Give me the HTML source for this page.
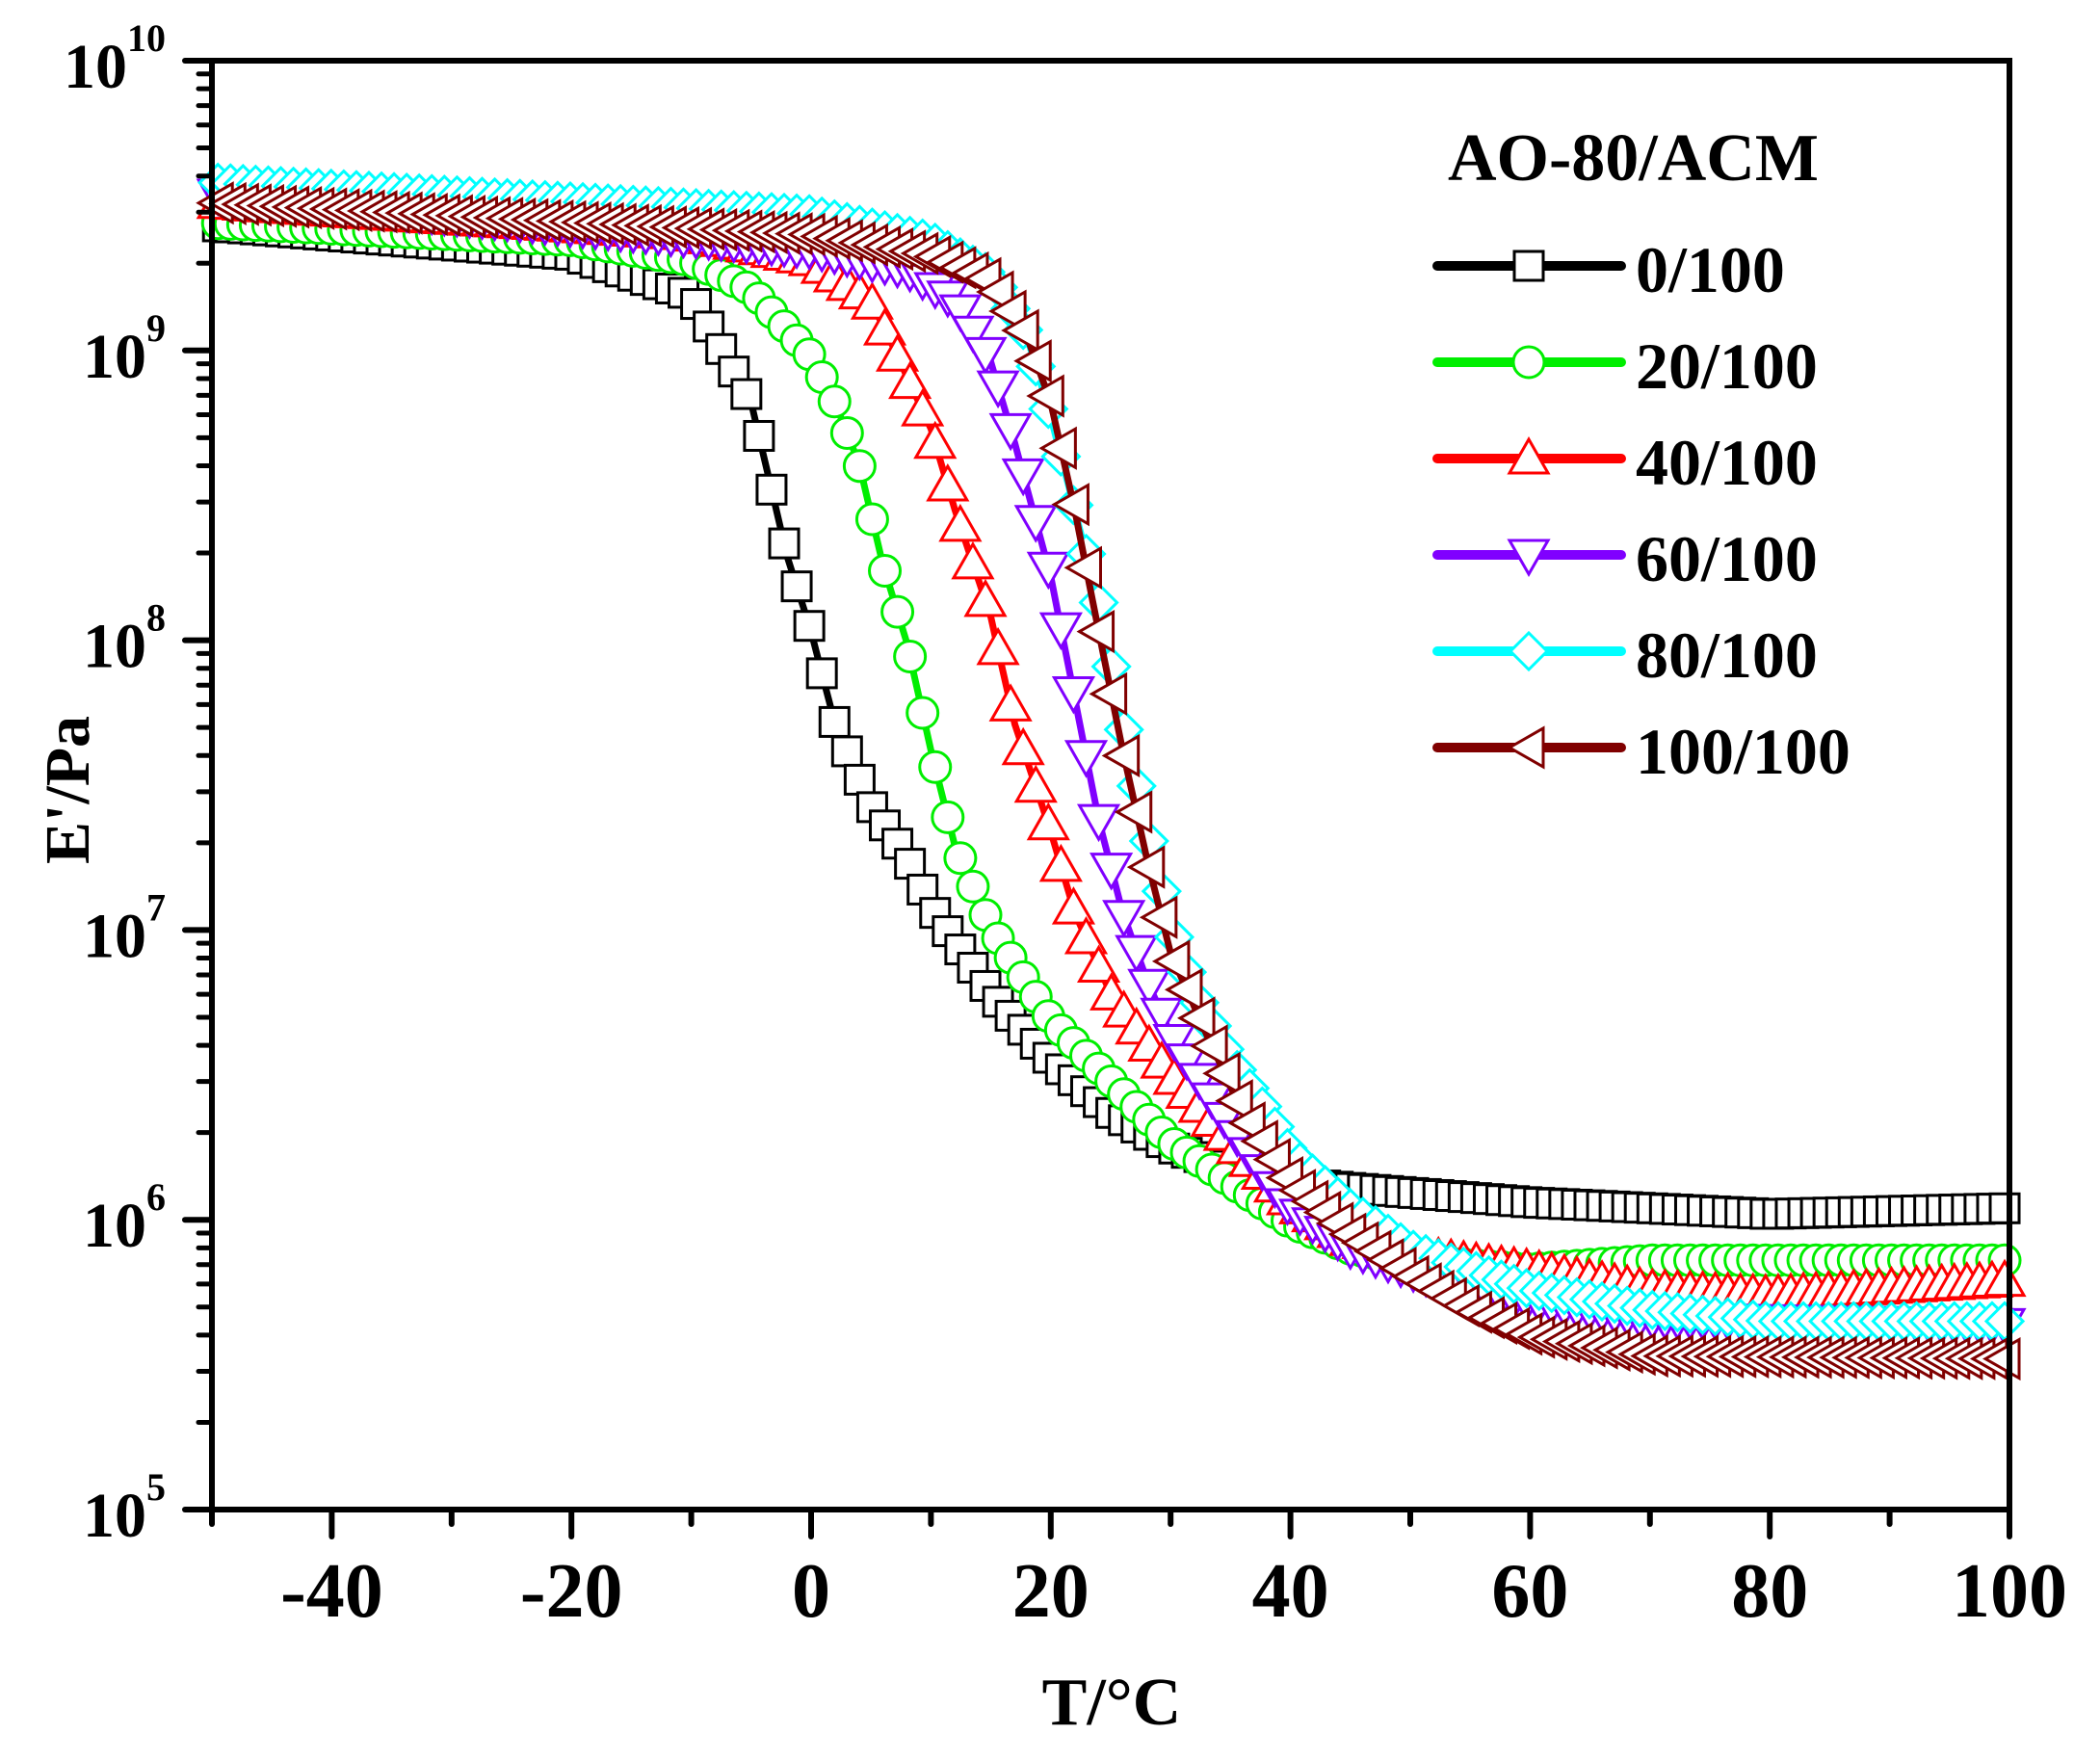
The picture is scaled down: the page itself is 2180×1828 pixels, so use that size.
<!DOCTYPE html>
<html><head><meta charset="utf-8"><style>html,body{margin:0;padding:0;background:#fff}svg{display:block}svg text{font-family:"Liberation Serif","Times New Roman",serif;font-weight:bold}</style></head>
<body>
<svg id="s" width="2180" height="1828" xmlns="http://www.w3.org/2000/svg" style="font-family:'Liberation Serif',serif;font-weight:bold">
<g id="data"></g>
<rect x="220" y="63" width="1866" height="1504" fill="none" stroke="#000" stroke-width="6"/>
<g id="ax"></g>
<text x="1503" y="187" font-size="70">AO-80/ACM</text>
<g id="leg"></g>
<text x="1154" y="1790" font-size="70" text-anchor="middle">T/°C</text>
<text transform="translate(92,820) rotate(-90)" font-size="66" text-anchor="middle">E'/Pa</text>
</svg>
<script>
const NS="http://www.w3.org/2000/svg";
const X0=220,X1=2086,Y0=63,Y1=1567;
const px=t=>X0+(t+50)*(X1-X0)/150;
const py=l=>Y0+(10-l)*(Y1-Y0)/5;
function el(p,tag,a,txt){const e=document.createElementNS(NS,tag);for(const k in a)e.setAttribute(k,a[k]);if(txt!=null)e.textContent=txt;p.appendChild(e);return e;}
const ax=document.getElementById('ax');
for(let d=5;d<=10;d++){
  const y=py(d);
  el(ax,'line',{x1:192,y1:y,x2:220,y2:y,stroke:'#000','stroke-width':6,'stroke-linecap':'round'});
  const t=el(ax,'text',{x:172,y:y+28,'font-size':66,'text-anchor':'end'},'10');
  el(t,'tspan',{dy:-38,'font-size':40},String(d));
  if(d<10)for(let m=2;m<=9;m++){const yy=py(d+Math.log10(m));el(ax,'line',{x1:206,y1:yy,x2:220,y2:yy,stroke:'#000','stroke-width':5,'stroke-linecap':'round'});}
}
for(let t=-50;t<=100;t+=10){
  const x=px(t),maj=(t%20===0);
  el(ax,'line',{x1:x,y1:1567,x2:x,y2:maj?1595:1582,stroke:'#000','stroke-width':6,'stroke-linecap':'round'});
  if(maj&&t>-50)el(ax,'text',{x:x,y:1678,'font-size':80,'text-anchor':'middle'},String(t));
}
const S=[
 {c:'#000',m:'sq',p:[[-50,9.43],[-20,9.33],[-10,9.19],[-5,8.82],[-2,8.29],[0,8.03],[2,7.71],[5,7.43],[8,7.25],[10,7.08],[15,6.78],[20,6.55],[25,6.37],[30,6.25],[35,6.18],[40,6.13],[45,6.11],[60,6.06],[80,6.02],[100,6.04]]},
 {c:'#00ee00',m:'ci',p:[[-50,9.44],[-20,9.38],[-10,9.31],[-5,9.21],[0,8.98],[2,8.82],[4,8.61],[6,8.26],[8,7.99],[10,7.62],[12,7.29],[15,7.01],[20,6.69],[25,6.48],[30,6.27],[35,6.13],[40,5.99],[45,5.90],[50,5.86],[60,5.83],[70,5.86],[100,5.86]]},
 {c:'#ff0000',m:'tu',p:[[-50,9.51],[-10,9.40],[0,9.31],[5,9.17],[7,9.0],[10,8.73],[12,8.45],[15,8.08],[17,7.71],[20,7.34],[22,7.06],[25,6.78],[30,6.50],[35,6.27],[40,6.06],[45,5.93],[50,5.88],[60,5.83],[70,5.76],[80,5.74],[100,5.79]]},
 {c:'#8000ff',m:'td',p:[[-50,9.54],[0,9.35],[8,9.28],[12,9.17],[15,8.96],[17,8.68],[20,8.22],[22,7.80],[24,7.38],[26,7.06],[28,6.83],[30,6.64],[35,6.32],[40,6.04],[45,5.90],[55,5.75],[70,5.66],[100,5.64]]},
 {c:'#00ffff',m:'di',p:[[-50,9.58],[0,9.47],[10,9.38],[15,9.26],[18,9.05],[20,8.77],[22,8.45],[24,8.13],[26,7.71],[28,7.34],[30,7.01],[32,6.78],[35,6.55],[38,6.37],[40,6.23],[45,6.04],[50,5.90],[60,5.76],[70,5.69],[80,5.65],[100,5.65]]},
 {c:'#800000',m:'tl',p:[[-50,9.51],[0,9.40],[10,9.33],[15,9.24],[18,9.05],[20,8.82],[22,8.45],[24,8.03],[26,7.62],[28,7.25],[30,6.92],[33,6.64],[36,6.37],[40,6.13],[45,5.95],[50,5.81],[55,5.69],[60,5.60],[70,5.53],[100,5.52]]}
];
function f(p,t){for(let i=0;i<p.length-1;i++){if(t<=p[i+1][0]){const a=p[i],b=p[i+1];return a[1]+(b[1]-a[1])*(t-a[0])/(b[0]-a[0]);}}return p[p.length-1][1];}
function mk(g,m,x,y,c){
 const a={fill:'#fff',stroke:c,'stroke-width':3};
 if(m==='sq')el(g,'rect',Object.assign({x:x-15,y:y-15,width:30,height:30},a));
 else if(m==='ci')el(g,'circle',Object.assign({cx:x,cy:y,r:16},a));
 else{let pts;
  if(m==='tu')pts=[[0,-20],[20,15],[-20,15]];
  else if(m==='td')pts=[[0,20],[20,-15],[-20,-15]];
  else if(m==='tl')pts=[[-20,0],[15,-20],[15,20]];
  else pts=[[0,-19],[19,0],[0,19],[-19,0]];
  el(g,'polygon',Object.assign({points:pts.map(q=>(x+q[0])+','+(y+q[1])).join(' ')},a));}
}
const D=document.getElementById('data');
S.forEach(s=>{
 let d='';for(let t=-50;t<=100;t+=0.5){d+=(t===-50?'M':'L')+px(t).toFixed(1)+','+py(f(s.p,t)).toFixed(1);}
 el(D,'path',{d:d,fill:'none',stroke:s.c,'stroke-width':7});
 const g=el(D,'g',{});
 for(let t=-49.5;t<=99.6;t+=1.05)mk(g,s.m,px(t),py(f(s.p,t)),s.c);
});
const L=document.getElementById('leg');
const names=['0/100','20/100','40/100','60/100','80/100','100/100'];
S.forEach((s,i)=>{const y=276+i*100;
 el(L,'line',{x1:1492,y1:y,x2:1683,y2:y,stroke:s.c,'stroke-width':10,'stroke-linecap':'round'});
 mk(L,s.m,1587,y,s.c);
 el(L,'text',{x:1698,y:y+27,'font-size':68},names[i]);
});
</script>
</body></html>
